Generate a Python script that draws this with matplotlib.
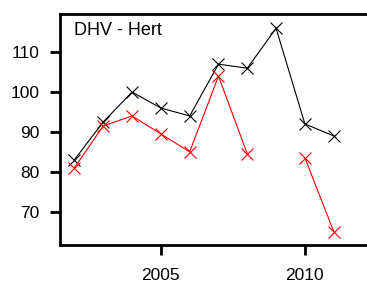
import numpy as np
import matplotlib.pyplot as plt

plt.rcParams['font.family'] = ['Liberation Sans', 'DejaVu Sans']

years = [2002, 2003, 2004, 2005, 2006, 2007, 2008, 2009, 2010, 2011]
black = [83, 92.5, 100, 96, 94, 107, 106, 116, 92, 89]
red = [81, 91.5, 94, 89.5, 85, 104, 84.5, np.nan, 83.5, 65]

fig = plt.figure(figsize=(3.67, 2.85), dpi=100)
ax = fig.add_axes([0.1635, 0.14, 0.84, 0.811])

ax.plot(years, black, color='black', lw=0.8, marker='x', ms=8.5, mew=0.8)
ax.plot(years, red, color='red', lw=0.8, marker='x', ms=8.5, mew=0.8)

ax.set_xlim(2001.5, 2012.2)
ax.set_ylim(61.6, 119.6)
ax.set_xticks([2005, 2010])
ax.set_yticks([70, 80, 90, 100, 110])

for s in ['left', 'bottom', 'top']:
    ax.spines[s].set_linewidth(2)
ax.spines['right'].set_visible(False)
ax.tick_params(direction='out', length=7.5, width=2, labelsize=12.5, pad=7)
ax.tick_params(axis='x', pad=9)

ax.text(0.045, 0.93, 'DHV - Hert', transform=ax.transAxes, fontsize=13,
        va='center', ha='left')

fig.savefig('out.png', dpi=100)
